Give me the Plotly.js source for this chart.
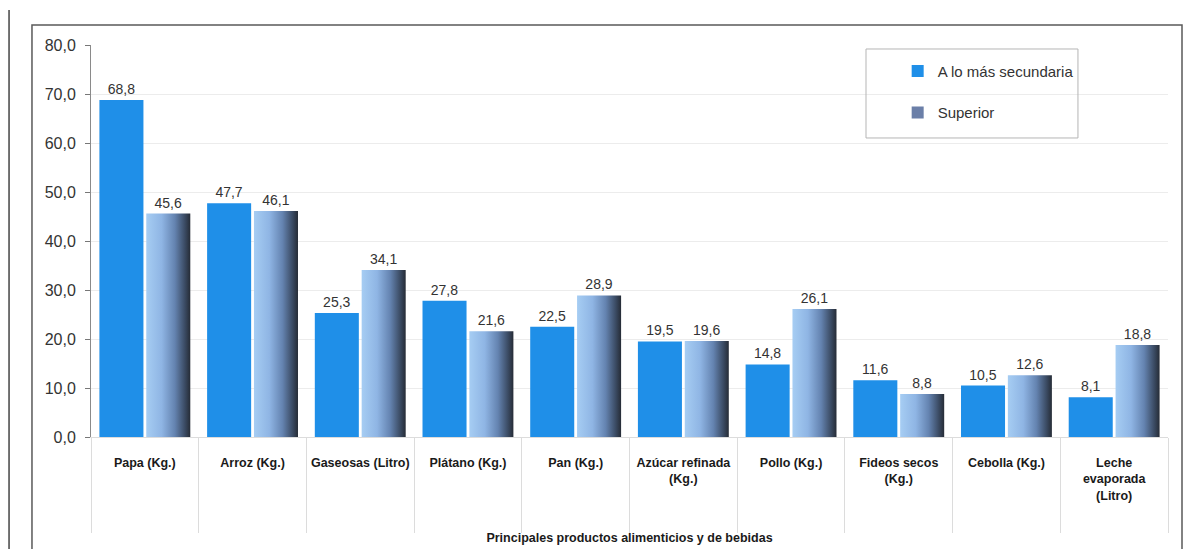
<!DOCTYPE html>
<html>
<head>
<meta charset="utf-8">
<script src="https://cdn.plot.ly/plotly-3.0.1.min.js"></script>
<style>
  html, body { margin: 0; padding: 0; background: #ffffff; }
  #chart { width: 1193px; height: 549px; }
</style>
</head>
<body>
<div id="chart"></div>
<script>
// Products (tick labels) and the two education-level series
const categories = [
  'Papa (Kg.)',
  'Arroz (Kg.)',
  'Gaseosas (Litro)',
  'Plátano (Kg.)',
  'Pan (Kg.)',
  'Azúcar refinada<br>(Kg.)',
  'Pollo (Kg.)',
  'Fideos secos<br>(Kg.)',
  'Cebolla (Kg.)',
  'Leche<br>evaporada<br>(Litro)'
];
const seriesNames = ['A lo más secundaria', 'Superior'];
const secundaria = [68.8, 47.7, 25.3, 27.8, 22.5, 19.5, 14.8, 11.6, 10.5, 8.1];
const superior   = [45.6, 46.1, 34.1, 21.6, 28.9, 19.6, 26.1, 8.8, 12.6, 18.8];
const yTicks = [0, 10, 20, 30, 40, 50, 60, 70, 80];
const xTitle = 'Principales productos alimenticios y de bebidas';

const FONT = 'Liberation Sans, Arial, sans-serif';

const labelFont = { family: FONT, size: 14, color: '#333333' };

const traces = [
  {
    type: 'bar',
    name: seriesNames[0],
    x: categories,
    y: secundaria,
    marker: { color: '#1f8fe8', line: { width: 0 } },
    texttemplate: '%{y:.1f}',
    textposition: 'outside',
    textfont: labelFont,
    constraintext: 'none',
    cliponaxis: false,
    legendgroup: 'a',
    hoverinfo: 'x+y'
  },
  {
    type: 'bar',
    name: seriesNames[1],
    x: categories,
    y: superior,
    marker: { color: '#6b7fa8', line: { width: 0 } },
    texttemplate: '%{y:.1f}',
    textposition: 'outside',
    textfont: labelFont,
    constraintext: 'none',
    cliponaxis: false,
    legendgroup: 'b',
    hoverinfo: 'x+y'
  }
];

const layout = {
  width: 1193,
  height: 549,
  margin: { l: 91, r: 25, t: 45, b: 112 },
  paper_bgcolor: '#ffffff',
  plot_bgcolor: '#ffffff',
  separators: ',.',
  font: { family: FONT, color: '#222222' },
  barmode: 'group',
  bargap: 0.13,
  bargroupgap: 0.06,
  showlegend: true,
  legend: {
    x: 0.749,
    y: 0.975,
    xanchor: 'left',
    yanchor: 'top',
    bgcolor: 'rgba(0,0,0,0)',
    borderwidth: 0,
    traceorder: 'grouped',
    tracegroupgap: 19,
    font: { family: FONT, size: 15, color: '#333333' },
    itemwidth: 30
  },
  xaxis: {
    type: 'category',
    tickson: 'boundaries',
    ticks: 'outside',
    ticklen: 95,
    tickwidth: 1,
    tickcolor: '#dcdcdc',
    ticklabelstandoff: 14,
    showline: true,
    linecolor: '#dcdcdc',
    showgrid: false,
    tickfont: { family: FONT, size: 12.5, color: '#1a1a1a', weight: 'bold' },
    title: {
      text: xTitle,
      font: { family: FONT, size: 12.5, color: '#1a1a1a', weight: 'bold' },
      standoff: 31
    },
    fixedrange: true
  },
  yaxis: {
    range: [0, 80],
    tickvals: yTicks,
    tickformat: '.1f',
    ticks: 'outside',
    ticklen: 5,
    tickcolor: '#777777',
    ticklabelstandoff: 6,
    showline: true,
    linecolor: '#8a8a8a',
    linewidth: 1,
    showgrid: true,
    gridcolor: '#ececec',
    zeroline: false,
    tickfont: { family: FONT, size: 16, color: '#333333' },
    fixedrange: true
  },
  shapes: [
    // outer chart frame
    { type: 'rect', xref: 'paper', yref: 'paper',
      x0: -0.0548, x1: 1.013, y0: -0.4, y1: 1.051,
      line: { color: '#5a5a5a', width: 1.5 }, fillcolor: 'rgba(0,0,0,0)', layer: 'below' },
    // page edge line on the left
    { type: 'line', xref: 'paper', yref: 'paper',
      x0: -0.0761, x1: -0.0761, y0: -0.4, y1: 1.089,
      line: { color: '#444444', width: 1.5 } },
    // legend box
    { type: 'rect', xref: 'paper', yref: 'paper',
      x0: 0.7196, x1: 0.9164, y0: 0.7628, y1: 0.9898,
      line: { color: '#b5b5b5', width: 1 }, fillcolor: 'rgba(0,0,0,0)', layer: 'above' }
  ]
};

const gd = document.getElementById('chart');

// Horizontal light-to-dark shading for the "Superior" bars
function shadeSuperior() {
  const svg = gd.querySelector('svg.main-svg');
  if (!svg) return;
  let defs = svg.querySelector('defs');
  if (!defs) {
    defs = document.createElementNS('http://www.w3.org/2000/svg', 'defs');
    svg.insertBefore(defs, svg.firstChild);
  }
  if (!svg.querySelector('#supGrad')) {
    const ns = 'http://www.w3.org/2000/svg';
    const g = document.createElementNS(ns, 'linearGradient');
    g.setAttribute('id', 'supGrad');
    g.setAttribute('x1', '0'); g.setAttribute('y1', '0');
    g.setAttribute('x2', '1'); g.setAttribute('y2', '0');
    [['0', '#a6cdf3'], ['0.35', '#8fb5e4'], ['0.65', '#6483b0'], ['0.88', '#3a4a62'], ['1', '#262c36']]
      .forEach(([off, col]) => {
        const s = document.createElementNS(ns, 'stop');
        s.setAttribute('offset', off);
        s.setAttribute('stop-color', col);
        g.appendChild(s);
      });
    defs.appendChild(g);
  }
  const barTraces = gd.querySelectorAll('.barlayer .trace');
  if (barTraces[1]) {
    barTraces[1].querySelectorAll('.point path').forEach(p => {
      p.style.fill = 'url(#supGrad)';
    });
  }
}

Plotly.newPlot(gd, traces, layout, { displayModeBar: false, staticPlot: true })
  .then(shadeSuperior);
</script>
</body>
</html>
